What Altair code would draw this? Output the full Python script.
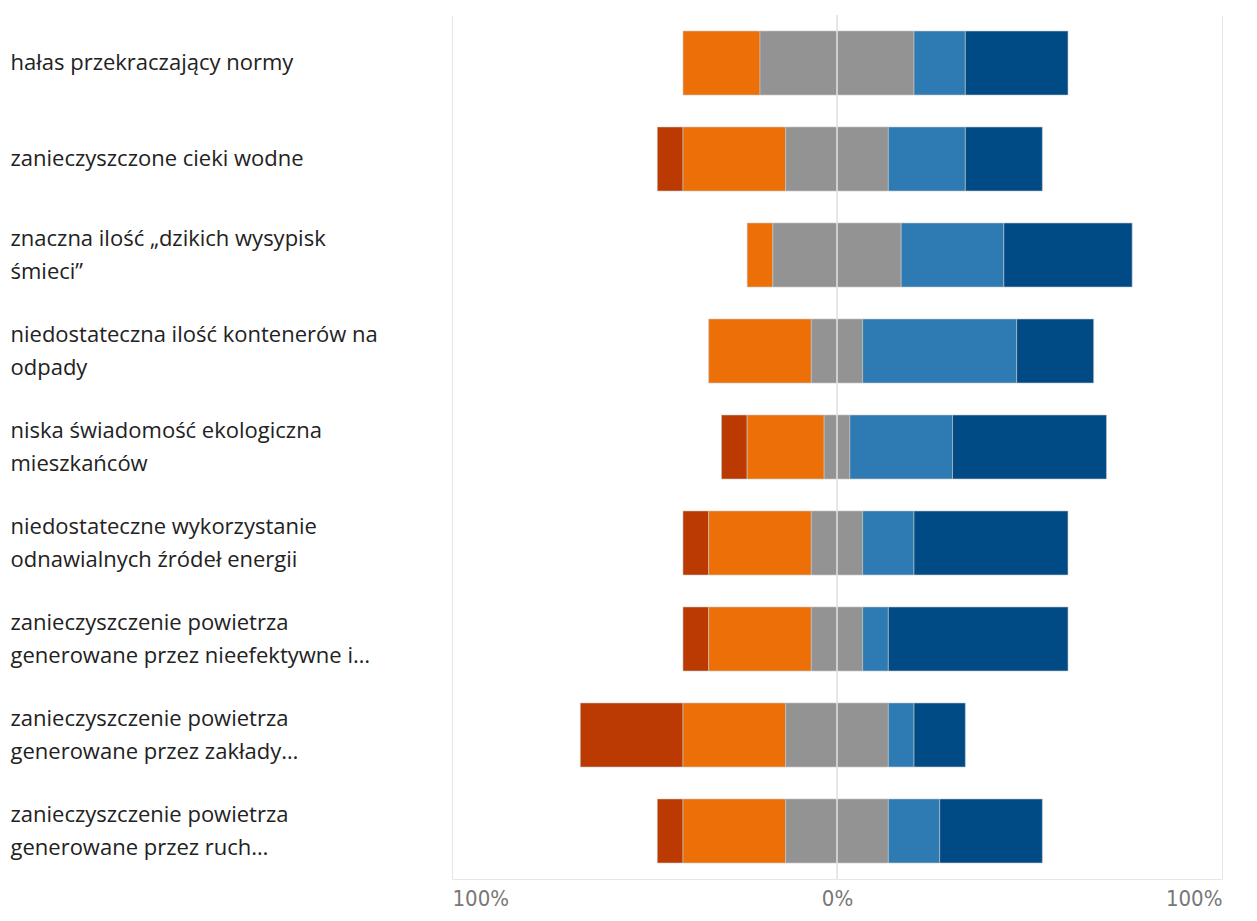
import altair as alt
import pandas as pd

categories = [
    "hałas przekraczający normy",
    "zanieczyszczone cieki wodne",
    "znaczna ilość „dzikich wysypisk|śmieci”",
    "niedostateczna ilość kontenerów na|odpady",
    "niska świadomość ekologiczna|mieszkańców",
    "niedostateczne wykorzystanie|odnawialnych źródeł energii",
    "zanieczyszczenie powietrza|generowane przez nieefektywne i…",
    "zanieczyszczenie powietrza|generowane przez zakłady…",
    "zanieczyszczenie powietrza|generowane przez ruch…",
]
levels = ["zdecydowanie nie", "raczej nie", "trudno powiedzieć", "raczej tak", "zdecydowanie tak"]
colors = ["#BA3A02", "#EC7007", "#939393", "#2E7AB2", "#004A85"]

strongly_no = [0, 6.67, 0, 0, 6.67, 6.67, 6.67, 26.67, 6.67]
no = [20, 26.67, 6.67, 26.67, 20, 26.67, 26.67, 26.67, 26.67]
neutral = [40, 26.67, 33.33, 13.33, 6.67, 13.33, 13.33, 26.67, 26.67]
yes = [13.33, 20, 26.67, 40, 26.67, 13.33, 6.67, 6.67, 13.33]
strongly_yes = [26.67, 20, 33.33, 20, 40, 40, 46.67, 13.33, 26.67]

series = [strongly_no, no, neutral, yes, strongly_yes]
rows = []
for i, cat in enumerate(categories):
    vals = [s[i] for s in series]
    start = -(vals[0] + vals[1] + vals[2] / 2)
    for lvl, v in zip(levels, vals):
        if v > 0:
            rows.append({"cat": cat, "level": lvl, "x0": start, "x1": start + v, "val": v})
        start += v
df = pd.DataFrame(rows)

ysc = alt.Scale(paddingInner=0.333, paddingOuter=0.1667)

bars = alt.Chart(df).mark_bar(stroke="#c8c8c8", strokeOpacity=0.6, strokeWidth=1).encode(
    y=alt.Y("cat:N", sort=categories, scale=ysc, title=None,
            axis=alt.Axis(labelExpr="split(datum.label, '|')", labelAlign="left",
                          labelBaseline="middle",
                          labelOffset={"condition": {"test": "indexof(datum.value, '|') >= 0", "value": -16}, "value": 0},
                          labelPadding=442, labelFont="Open Sans", labelFontSize=22,
                          labelColor="#222222", labelLineHeight=33, labelLimit=440,
                          ticks=False, domain=False, grid=False)),
    x=alt.X("x0:Q", scale=alt.Scale(domain=[-100, 100], nice=False), title=None,
            axis=alt.Axis(values=[-100, 0, 100], labelExpr="abs(datum.value) + '%'",
                          labelFont="DejaVu Sans Condensed, Liberation Sans, sans-serif",
                          labelFontSize=22,
                          labelColor="#777777", labelPadding=9, ticks=False,
                          domainColor="#e6e6e6", gridColor="#e6e6e6", grid=True)),
    x2="x1:Q",
    color=alt.Color("level:N", scale=alt.Scale(domain=levels, range=colors), legend=None),
)

zero = alt.Chart(pd.DataFrame({"z": [0]})).mark_rule(color="#e3e3e3", strokeWidth=1.5).encode(
    x="z:Q"
)

chart = alt.layer(bars, zero).properties(
    width=770, height=864,
    padding={"left": 2, "top": 6, "right": 20, "bottom": 5},
).configure_view(stroke=None)

chart.save("out.html", embed_options={"renderer": "svg", "actions": False})
